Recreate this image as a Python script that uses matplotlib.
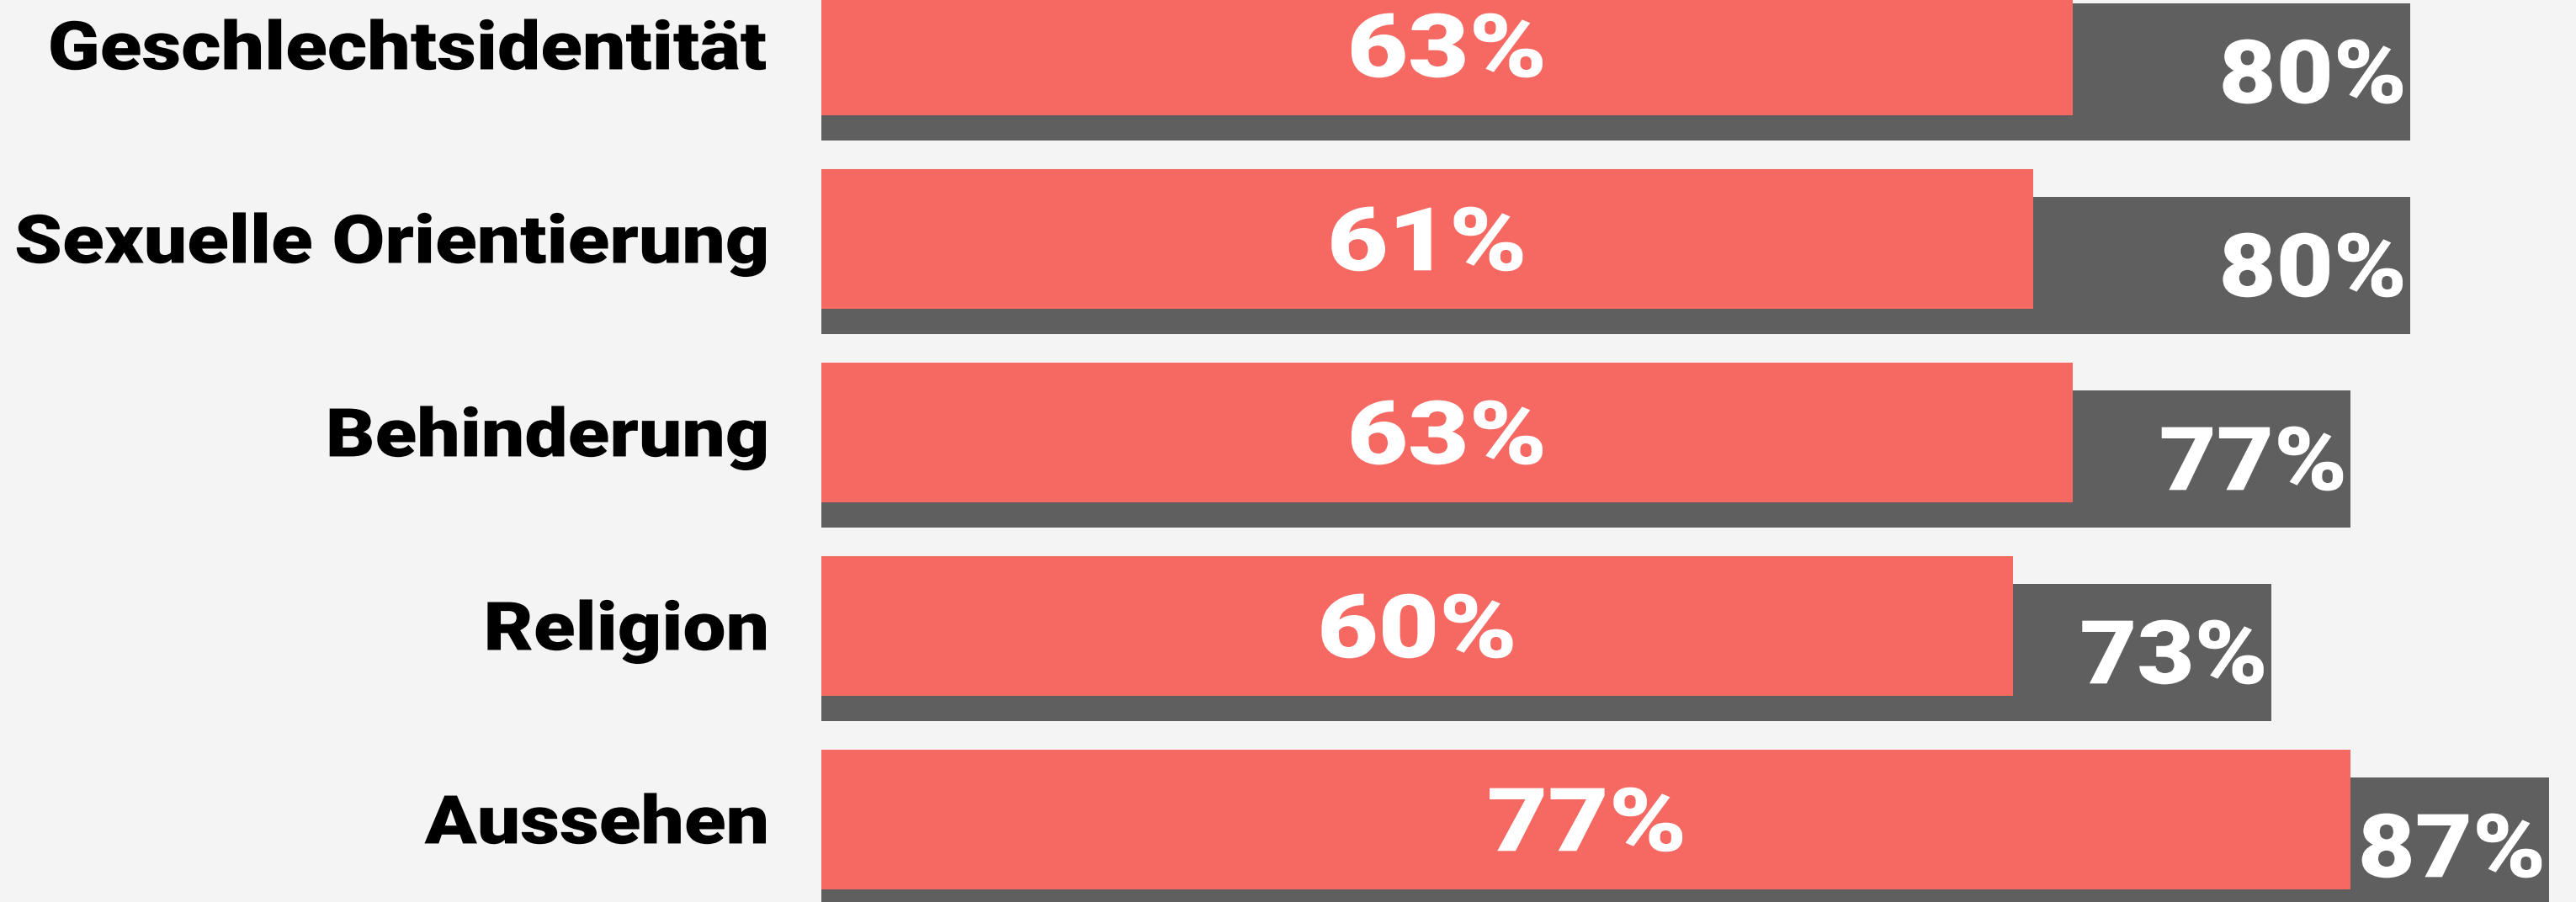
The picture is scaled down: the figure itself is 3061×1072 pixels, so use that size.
import matplotlib.pyplot as plt
from matplotlib.textpath import TextPath
from matplotlib.font_manager import FontProperties
from matplotlib.patches import PathPatch
from matplotlib.transforms import Affine2D, IdentityTransform

# ------------------------------------------
# Data
# ------------------------------------------

categories = ["Geschlechtsidentität", "Sexuelle Orientierung", "Behinderung",
              "Religion", "Aussehen"]
red_values = [63, 61, 63, 60, 77]
gray_values = [80, 80, 77, 73, 87]

RED = "#F66862"
GRAY = "#5F5F5F"
BG = "#F4F4F4"

# ------------------------------------------
# Layout (pixels -> data units)
# ------------------------------------------

px_per_pct = 23.6
left_px = 976
pitch = 230.0
first_center = 54.0

fig = plt.figure(figsize=(30.61, 10.72), dpi=100, facecolor=BG)
ax = fig.add_axes([0, 0, 1, 1])
ax.set_facecolor(BG)
ax.set_xlim(-left_px / px_per_pct, (3061 - left_px) / px_per_pct)
ax.set_ylim((1072 - first_center) / pitch, -first_center / pitch)
ax.axis("off")

ys = list(range(len(categories)))
off = 31 / pitch
red_h = 166 / pitch
gray_h = 163 / pitch

ax.barh([y + off for y in ys], gray_values, height=gray_h, left=0,
        color=GRAY, zorder=1)
ax.barh(ys, red_values, height=red_h, left=0, color=RED, zorder=2)

# ------------------------------------------
# Wide heavy text (Roboto Black, stretched sideways)
# ------------------------------------------

fp = FontProperties(family=["Roboto", "DejaVu Sans"], weight="black")


def wide_text(x, y, s, size_px, sx, color, ha):
    tp = TextPath((0, 0), s, size=size_px, prop=fp)
    cap = TextPath((0, 0), "H", size=size_px, prop=fp).get_extents().y1
    bb = tp.get_extents()
    X, Y = ax.transData.transform((x, y))
    if ha == "right":
        dx = X - bb.x1 * sx
    elif ha == "center":
        dx = X - (bb.x0 + bb.x1) / 2 * sx
    else:
        dx = X - bb.x0 * sx
    tr = Affine2D().scale(sx, 1).translate(dx, Y - cap / 2)
    patch = PathPatch(tr.transform_path(tp), facecolor=color, edgecolor="none",
                      transform=IdentityTransform(), zorder=4)
    fig.patches.append(patch)
    patch.set_figure(fig)


for y, cat, r, g in zip(ys, categories, red_values, gray_values):
    wide_text(-66 / px_per_pct, y, cat, 80, 1.14, "black", "right")
    wide_text(r / 2, y, f"{r}%", 105, 1.19, "white", "center")
    wide_text(g - 9 / px_per_pct, y + off, f"{g}%", 105, 1.12, "white", "right")

plt.savefig("out.png", dpi=100, facecolor=BG)
